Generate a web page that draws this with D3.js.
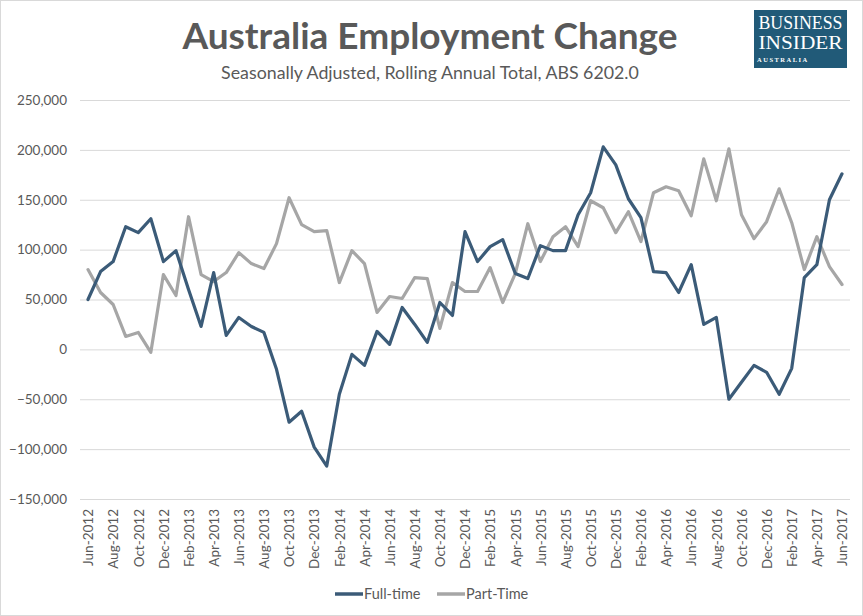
<!DOCTYPE html>
<html><head><meta charset="utf-8">
<script src="https://cdn.jsdelivr.net/npm/d3@7"></script>
<style>html,body{margin:0;padding:0;background:#fff;}</style>
</head><body>
<svg id="c" width="863" height="616"></svg>
<script>
const months = ["Jun-2012","Jul-2012","Aug-2012","Sep-2012","Oct-2012","Nov-2012","Dec-2012","Jan-2013","Feb-2013","Mar-2013","Apr-2013","May-2013",
"Jun-2013","Jul-2013","Aug-2013","Sep-2013","Oct-2013","Nov-2013","Dec-2013","Jan-2014","Feb-2014","Mar-2014","Apr-2014","May-2014",
"Jun-2014","Jul-2014","Aug-2014","Sep-2014","Oct-2014","Nov-2014","Dec-2014","Jan-2015","Feb-2015","Mar-2015","Apr-2015","May-2015",
"Jun-2015","Jul-2015","Aug-2015","Sep-2015","Oct-2015","Nov-2015","Dec-2015","Jan-2016","Feb-2016","Mar-2016","Apr-2016","May-2016",
"Jun-2016","Jul-2016","Aug-2016","Sep-2016","Oct-2016","Nov-2016","Dec-2016","Jan-2017","Feb-2017","Mar-2017","Apr-2017","May-2017","Jun-2017"];
const fullTime = [50000,78000,88000,123000,117000,131000,88000,99000,60000,23000,77000,14000,
32000,23000,17000,-20000,-73000,-62000,-98000,-117000,-45000,-5000,-16000,18000,
5000,42000,25000,7000,47000,34000,118000,88000,103000,110000,76000,71000,
104000,99000,99000,135000,157000,203000,185000,151000,132000,78000,77000,57000,
85000,25000,32000,-50000,-33000,-16000,-23000,-45000,-19000,72000,85000,150000,176000];
const partTime = [80000,57000,45000,13000,17000,-3000,75000,54000,133000,75000,68000,77000,
97000,86000,81000,106000,152000,125000,118000,119000,67000,99000,86000,37000,
53000,51000,72000,71000,21000,67000,58000,58000,82000,47000,76000,126000,
88000,113000,123000,103000,149000,142000,117000,138000,108000,157000,163000,159000,
134000,191000,149000,201000,135000,111000,128000,161000,127000,80000,113000,83000,65000];
const yTicks = [-150000,-100000,-50000,0,50000,100000,150000,200000,250000];
const seriesNames = ["Full-time","Part-Time"];
const seriesColors = ["#3b5b78","#a6a6a6"];

const svg = d3.select("#c");
const font = "Lato, 'Open Sans', sans-serif";
svg.append("rect").attr("x",0.5).attr("y",0.5).attr("width",862).attr("height",615)
  .attr("fill","#fff").attr("stroke","#d9d9d9");

const x = d3.scalePoint().domain(months).range([88,842]);
const y = d3.scaleLinear().domain([-150000,250000]).range([499,100]);

// gridlines
const yAxis = d3.axisLeft(y).tickValues(yTicks).tickSize(-770).tickFormat(d3.format(",")).tickPadding(13);
const gy = svg.append("g").attr("transform","translate(80,0)").call(yAxis);
gy.select(".domain").remove();
gy.selectAll(".tick line").attr("stroke","#d9d9d9").attr("stroke-width",1);
gy.selectAll(".tick text").attr("fill","#595959").style("font-family",font).style("font-size","13.5px").attr("x",-13);

// x axis labels
const xAxis = d3.axisBottom(x).tickValues(months.filter((d,i)=>i%2===0)).tickSize(0);
const gx = svg.append("g").attr("transform","translate(0,505)").call(xAxis);
gx.select(".domain").remove();
gx.selectAll(".tick text").attr("fill","#595959").style("font-family",font).style("font-size","13.5px")
  .attr("text-anchor","end").attr("transform","rotate(-90)").attr("x",-4).attr("y",0).attr("dy","0.35em");

const line = d3.line().x((d,i)=>x(months[i])).y(d=>y(d)).curve(d3.curveLinear);
[partTime, fullTime].forEach((s,k)=>{
  svg.append("path").datum(s).attr("d",line).attr("fill","none")
    .attr("stroke", k===0?seriesColors[1]:seriesColors[0]).attr("stroke-width",3.2)
    .attr("stroke-linejoin","round").attr("stroke-linecap","round");
});

// legend
const leg = [{n:seriesNames[0],c:seriesColors[0],x:335},{n:seriesNames[1],c:seriesColors[1],x:437}];
leg.forEach(l=>{
  svg.append("line").attr("x1",l.x).attr("x2",l.x+28).attr("y1",594).attr("y2",594)
    .attr("stroke",l.c).attr("stroke-width",3.5);
  svg.append("text").attr("x",l.x+29).attr("y",599).text(l.n).attr("fill","#595959")
    .style("font-family",font).style("font-size","14.5px");
});

// titles
svg.append("text").attr("x",430).attr("y",49).attr("text-anchor","middle")
  .text("Australia Employment Change").attr("fill","#595959")
  .style("font-family",font).style("font-size","37px").style("font-weight","bold");
svg.append("text").attr("x",430).attr("y",79).attr("text-anchor","middle")
  .text("Seasonally Adjusted, Rolling Annual Total, ABS 6202.0").attr("fill","#595959")
  .style("font-family",font).style("font-size","17.8px");

// logo
const lg = svg.append("g");
lg.append("rect").attr("x",754).attr("y",10).attr("width",93).attr("height",58).attr("fill","#215a78");
const serif = "'Liberation Serif','DejaVu Serif',serif";
lg.append("text").attr("x",800.5).attr("y",29).attr("text-anchor","middle").text("BUSINESS")
  .attr("fill","#fff").style("font-family",serif).style("font-size","18px").attr("textLength",84).attr("lengthAdjust","spacingAndGlyphs");
lg.append("text").attr("x",800.5).attr("y",49).attr("text-anchor","middle").text("INSIDER")
  .attr("fill","#fff").style("font-family",serif).style("font-size","18px").attr("textLength",84).attr("lengthAdjust","spacingAndGlyphs");
lg.append("text").attr("x",757).attr("y",62).text("AUSTRALIA")
  .attr("fill","#fff").style("font-family",serif).style("font-size","6.5px").style("font-weight","bold").style("letter-spacing","1.5px");
</script>
</body></html>
